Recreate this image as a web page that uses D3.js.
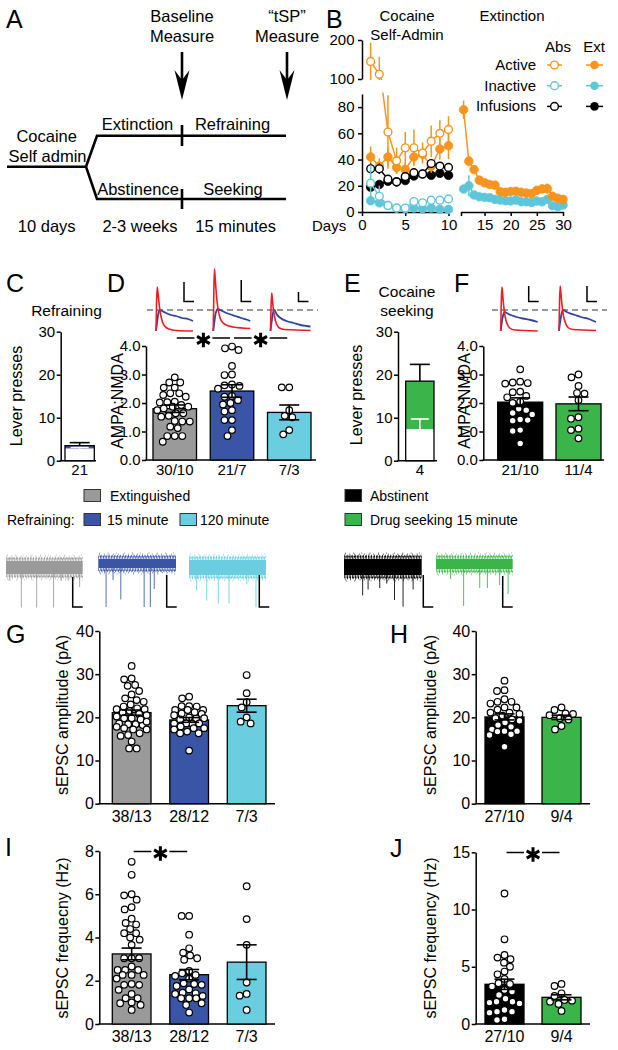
<!DOCTYPE html>
<html><head><meta charset="utf-8">
<script src="https://cdn.jsdelivr.net/npm/d3@7/dist/d3.min.js"></script>
<style>html,body{margin:0;padding:0;background:#fff}</style>
</head><body>
<svg id="fig" width="618" height="1050" xmlns="http://www.w3.org/2000/svg"></svg>
<script>
// ================= DATA =================
// Panel B: self-administration (days 1-10) and extinction (days 11-30); mean and SEM
const saDays = [1,2,3,4,5,6,7,8,9,10];
const extDays = [11,12,13,14,15,16,17,18,19,20,21,22,23,24,25,26,27,28,29,30];
const absActive = [145,112,61,39,49,49,45,54,60,63];
const absActiveSem = [48,45,28,10,12,14,8,12,10,10];
const absInactive = [22,12,5,3,3,8,7,9,9,10];
const absInactiveSem = [14,8,3,2,2,3,2,3,3,3];
const absInfusions = [33,33,25,23,27,30,29,37,35,34];
const absInfusionsSem = [4,4,3,2,2,2,2,2,2,2];
const extActiveSA = [42,35,42,34,32.5,42,44,35,48,50.5];
const extActiveSASem = [8,6,7,5,5,6,5,5,8,10];
const extInactiveSA = [8.6,7,5,3,2.5,3,2.5,3,2,2];
const extInactiveSASem = [3,3,2,1,1,1,1,1,1,1];
const extInfusionsSA = [19,21,23.5,23,24,27.5,29,28,29.5,28];
const extInfusionsSASem = [2,2,2,2,1.5,1.5,1.5,1.5,1.5,1.5];
const extActive = [78,38.8,32.4,24.3,22.3,21,20.5,15.5,15,15.6,15.8,15,14.5,14,16.5,17.6,17.8,12,10.5,9.6];
const extActiveSem = [7,4,3,3,2,2,2,2,2,2,2,2,2,2,2,3,4,2,2,2];
const extInactive = [17.5,20,13,11.6,11.2,10.9,9.6,9.1,8.6,8.4,9.1,7.8,7.8,7.3,8.4,7.8,9.6,4.8,4,5.3];
const extInactiveSem = [2,8,2,1.5,1.5,1.5,1.5,1.5,1.5,1.5,1.5,1.5,1.5,1.5,1.5,1.5,1.5,1.5,1.5,1.5];
const bDayTicksSA = [0,5,10];
const bDayTicksExt = [15,20,25,30];
const bLowTicks = [0,20,40,60,80];
const bHighTicks = [100,200];

// Panel C / E: lever presses (stacked: inactive in white, active on top)
const cGroups = ['21'];
const cInactive = [2.8], cInactiveSem = [0.3], cActive = [3.5], cActiveSem = [0.7];
const eGroups = ['4'];
const eInactive = [7.3], eInactiveSem = [2.4], eActive = [18.5], eActiveSem = [3.9];
const leverTicks = [0,10,20,30];

// Panel D: AMPA:NMDA
const dGroups = ['30/10','21/7','7/3'];
const dMeans = [1.8,2.42,1.67];
const dSems = [0.13,0.22,0.26];
const dDots = [
  [2.9,2.72,2.72,2.54,2.54,2.34,2.22,2.34,2.28,2.05,2.03,2.02,1.93,1.87,1.75,1.87,1.81,1.64,1.52,1.64,1.55,1.37,1.35,1.35,1.17,1.12,0.84,0.84,0.84,0.64],
  [3.98,3.92,3.86,3.3,3.0,2.98,2.65,2.6,2.62,2.5,2.25,2.22,2.1,2.0,1.95,1.75,1.7,1.4,1.4,1.05,0.84],
  [2.55,2.55,1.75,1.55,1.5,0.9,1.05]
];
const ampaTicks = [0,1,2,3,4];
// Panel F
const fGroups = ['21/10','11/4'];
const fMeans = [2.03,1.97];
const fSems = [0.15,0.24];
const fDots = [
  [3.18,2.75,2.72,2.7,2.68,2.4,2.38,2.25,2.2,2.05,2.0,1.8,1.75,1.65,1.6,1.42,1.38,1.4,1.05,1.02,0.58],
  [3.0,2.9,2.6,2.35,2.33,2.1,1.5,1.45,1.1,1.05,0.76]
];
// EPSC example traces (time, amplitude)
const dAmpaTraces = [
  [[0,0],[0.6,30],[1.2,44],[2,38],[3,28],[4.5,17],[6.5,9],[9,4.5],[13,2],[20,0.5],[37,0]],
  [[0,0],[0.6,40],[1.2,62],[2,52],[3,38],[4.5,24],[6.5,14],[9,9],[13,6],[20,4],[37,2.5]],
  [[0,0],[0.6,26],[1.2,38],[2,30],[3,21],[4.5,12],[6.5,6],[9,3],[14,1.5],[40,0.5]]
];
const dNmdaTraces = [
  [[0,0],[1,8],[2.5,18],[4,21],[6,20],[10,18],[15,16],[20,15],[26,13],[32,12],[37,10]],
  [[0,0],[1,8],[2.5,18],[4.5,22],[7,21],[11,19],[16,17],[22,15],[28,13],[33,11.5],[37,10]],
  [[0,0],[1,8],[2.5,18],[4,21],[6,17],[10,13],[16,10],[23,8],[30,6],[36,5],[40,4.5]]
];
const fAmpaTraces = [
  [[0,0],[0.6,30],[1.2,44],[2,36],[3,25],[4.5,14],[6.5,7],[9,3],[14,1],[37,0]],
  [[0,0],[0.6,31],[1.2,45],[2,37],[3,26],[4.5,15],[6.5,8],[9,3.5],[14,1.5],[37,0.5]]
];
const fNmdaTraces = [
  [[0,0],[1,8],[2.5,16],[4,19],[6,18],[10,16],[16,14],[22,12.5],[30,11],[37,9]],
  [[0,0],[1,8],[2.5,17],[4,21],[6,20],[10,18],[16,16],[22,14],[30,12],[37,9]]
];

// sEPSC example traces: spike times (fraction of sweep) and amplitudes (pA)
const sTraceNames = ['Extinguished','15 minute','120 minute','Abstinent','Drug seeking 15 minute'];
const sSpikeTimes = [
  [0.05,0.2,0.4,0.62,0.72,0.81,0.96],
  [0.1,0.19,0.29,0.59,0.67,0.72],
  [0.1,0.23,0.38,0.52,0.75,0.87],
  [0.24,0.31,0.46,0.55,0.65,0.76,0.89],
  [0.19,0.36,0.57,0.67,0.83,0.94]
];
const sSpikeAmps = [
  [9,26.7,26.7,26.7,9,9,13],
  [29,11,24,29,29,17],
  [15,22,24,24,11,26.5],
  [19,15,14,11,22,26.5,15],
  [10,28,16,16,14,20]
];

// Panel G / H: sEPSC amplitude
const gGroups = ['38/13','28/12','7/3'];
const gMeans = [21.1,19.4,22.7];
const gSems = [0.6,0.55,1.5];
const gDots = [
  [31.9,28.8,29,27.5,26.1,27.3,25.3,24.4,23.6,24,21.9,21.9,22.1,21.1,20.5,20.2,19.8,19.8,18.2,18.6,18.4,18.4,17.2,17.2,17.5,15.9,16.3,15.7,14.4,12.8,12.8,22.5,21.5,20.8,19.5,19,17.8,23],
  [24.8,24.4,22.5,22.6,22.6,21.7,21.7,21.7,20.9,20.8,20.5,19.8,19.5,19.8,18.6,18.5,18.6,18.6,17.5,17.2,17.5,16.3,16.3,16.7,12.3,21.2,20,17.9],
  [29.8,25.6,23.5,22.3,20,18.6,19]
];
const ampTicks = [0,10,20,30,40];
const hGroups = ['27/10','9/4'];
const hMeans = [20.1,20.0];
const hSems = [0.7,0.5];
const hDots = [
  [28.5,26.1,26.3,23.6,23.2,23.6,24.2,22.3,22.3,21.1,21.1,20.8,19.8,19.5,18.8,17.2,16.8,16.8,17.8,16.1,15.9,16.7,13.2,21.8,20.4,19.2,18.2],
  [22.3,21.7,20.8,20.5,20.9,19.5,19.8,17.2,18]
];
// Panel I / J: sEPSC frequency
const iGroups = ['38/13','28/12','7/3'];
const iMeans = [3.24,2.28,2.86];
const iSems = [0.27,0.24,0.8];
const iDots = [
  [7.5,6.9,6.0,5.95,5.75,5.4,5.3,4.87,4.67,4.6,4.39,4.2,4.2,4.0,3.9,3.66,3.04,3.04,3.04,2.66,2.5,2.5,2.5,2.27,2.27,2.27,1.81,1.81,1.85,1.58,1.39,1.19,1.19,0.96,1.0,0.88,0.65,2.1],
  [5.0,5.0,4.13,3.5,3.17,2.97,3.04,3.3,2.35,2.27,2.22,1.85,1.81,1.88,1.76,1.42,1.45,1.39,1.19,1.19,1.19,0.88,0.96,0.53,2.45,2.1,1.6,1.3],
  [6.37,4.85,3.66,1.92,1.39,1.31,0.65]
];
const freqTicksI = [0,2,4,6,8];
const jGroups = ['27/10','9/4'];
const jMeans = [3.47,2.33];
const jSems = [0.45,0.22];
const jDots = [
  [11.4,7.4,6.03,5.66,5.36,5.8,5.0,4.58,4.34,3.94,3.5,3.56,3.27,2.97,2.83,2.54,1.95,1.8,1.95,1.87,1.08,1.22,1.08,0.99,0.35,0.41,2.2],
  [3.32,3.5,2.45,2.68,1.95,2.1,1.75,2.04,1.14]
];
const freqTicksJ = [0,5,10,15];

// ================= STYLE =================
const C = {gray:'#9a9a9a', blue:'#3a55a5', cyan:'#6bcde0', black:'#000000', green:'#3bb54a',
           orange:'#f7941d', bcyan:'#5fc6da', red:'#ec1c24', tblue:'#2f44a0'};
const FONT = '"Liberation Sans", Arial, Helvetica, sans-serif';
const svg = d3.select('#fig');
const defs = svg.append('defs');

function txt(g, x, y, s, size, anchor) {
  return g.append('text').attr('x', x).attr('y', y).text(s)
    .attr('font-size', size).attr('text-anchor', anchor || 'start')
    .attr('font-family', FONT).attr('fill', '#000');
}
function styleAxis(sel, fs) {
  sel.attr('font-size', fs).attr('font-family', FONT);
  sel.select('.domain').attr('stroke', '#000').attr('stroke-width', 1.5);
  sel.selectAll('.tick line').attr('stroke', '#000').attr('stroke-width', 1.5);
  sel.selectAll('.tick text').attr('fill', '#000');
}
function star(g, x, y) {
  g.append('path').attr('transform', `translate(${x},${y})`)
    .attr('d', d3.symbol(d3.symbolAsterisk, 150)())
    .attr('stroke', '#000').attr('stroke-width', 3).attr('fill', 'none');
}
function sigBar(g, x1, x2, y) {
  const m = (x1 + x2) / 2;
  g.append('line').attr('x1', x1 + 2).attr('x2', m - 9).attr('y1', y).attr('y2', y).attr('stroke', '#000').attr('stroke-width', 1.5);
  g.append('line').attr('x1', m + 9).attr('x2', x2 - 2).attr('y1', y).attr('y2', y).attr('stroke', '#000').attr('stroke-width', 1.5);
  star(g, m, y + 2);
}
function panelLetter(x, y, s) { txt(svg, x, y, s, 25); }

// beeswarm placement of dots inside a bar
function swarm(values, cx, yScale, r, halfW) {
  const order = values.map((v, i) => ({v, i})).sort((a, b) => b.v - a.v);
  const placed = [], out = new Array(values.length);
  const minD = 2 * r + 0.6;
  for (const o of order) {
    const yy = yScale(o.v);
    let best = null, bestOv = Infinity, bestX = cx;
    for (let k = 0; k <= 4 * halfW; k++) {
      const off = (k % 2 === 0 ? 1 : -1) * Math.ceil(k / 2) * 0.5;
      if (Math.abs(off) > halfW) continue;
      const xx = cx + off;
      let ov = 0;
      for (const p of placed) {
        const d = Math.hypot(p.x - xx, p.y - yy);
        if (d < minD) ov += minD - d;
      }
      if (ov === 0) { best = xx; break; }
      if (ov < bestOv) { bestOv = ov; bestX = xx; }
    }
    if (best === null) best = bestX;
    placed.push({x: best, y: yy});
    out[o.i] = {x: best, y: yy};
  }
  return out;
}

function barPanel(o) {
  const g = svg.append('g');
  const y = d3.scaleLinear().domain([0, o.max]).range([o.y0, o.yTop]);
  const x = d3.scaleBand().domain(o.cats).range([o.barL, o.barR]).paddingInner(o.pad || 0).paddingOuter(0);
  const ax = g.append('g').attr('transform', `translate(${o.axisX},0)`)
    .call(d3.axisLeft(y).tickValues(o.ticks).tickSize(4).tickSizeOuter(0).tickPadding(1.5));
  styleAxis(ax, o.fs);
  g.append('line').attr('x1', o.axisX - 0.75).attr('x2', o.axisXEnd).attr('y1', o.y0).attr('y2', o.y0)
    .attr('stroke', '#000').attr('stroke-width', 1.5);
  o.cats.forEach(c => txt(g, x(c) + x.bandwidth() / 2, o.y0 + o.labelDy, c, o.fs, 'middle'));
  g.append('text').attr('transform', `translate(${o.ylabX},${o.ylabY}) rotate(-90)`)
    .attr('text-anchor', 'middle').attr('dy', '0.35em').attr('font-size', o.labFs || 16)
    .attr('font-family', FONT).text(o.ylabel);
  return {g, x, y};
}

function dotBars(p, o) {
  const {g, x, y} = p;
  const bw = x.bandwidth();
  o.cats.forEach((c, i) => {
    g.append('rect').attr('x', x(c)).attr('y', y(o.means[i])).attr('width', bw)
      .attr('height', y(0) - y(o.means[i])).attr('fill', o.colors[i])
      .attr('stroke', '#000').attr('stroke-width', 1.3);
  });
  o.cats.forEach((c, i) => {
    const cx = x(c) + bw / 2;
    const pts = swarm(o.dots[i], cx, y, 3.3, bw / 2 - 4);
    g.selectAll(null).data(pts).join('circle')
      .attr('cx', d => d.x).attr('cy', d => d.y).attr('r', 3.3)
      .attr('fill', '#fff').attr('stroke', '#000').attr('stroke-width', 1.2);
  });
  o.cats.forEach((c, i) => {
    const cx = x(c) + bw / 2, m = o.means[i], s = o.sems[i];
    g.append('line').attr('x1', cx).attr('x2', cx).attr('y1', y(m - s)).attr('y2', y(m + s)).attr('stroke', '#000').attr('stroke-width', 1.6);
    [m - s, m + s].forEach(v => g.append('line').attr('x1', cx - 10).attr('x2', cx + 10)
      .attr('y1', y(v)).attr('y2', y(v)).attr('stroke', '#000').attr('stroke-width', 1.6));
  });
}

function stackBar(p, o) {
  const {g, x, y} = p;
  const bw = x.bandwidth();
  o.cats.forEach((c, i) => {
    const x0 = x(c), cx = x0 + bw / 2;
    g.append('rect').attr('x', x0).attr('y', y(o.active[i])).attr('width', bw)
      .attr('height', y(o.inactive[i]) - y(o.active[i])).attr('fill', o.color);
    g.append('rect').attr('x', x0).attr('y', y(o.inactive[i])).attr('width', bw)
      .attr('height', y(0) - y(o.inactive[i])).attr('fill', '#fff');
    const ti = o.inactive[i] + o.inactiveSem[i];
    g.append('line').attr('x1', cx).attr('x2', cx).attr('y1', y(o.inactive[i])).attr('y2', y(ti)).attr('stroke', '#fff').attr('stroke-width', 1.6);
    g.append('line').attr('x1', cx - 9).attr('x2', cx + 9).attr('y1', y(ti)).attr('y2', y(ti)).attr('stroke', '#fff').attr('stroke-width', 1.6);
    g.append('rect').attr('x', x0).attr('y', y(o.active[i])).attr('width', bw)
      .attr('height', y(0) - y(o.active[i])).attr('fill', 'none').attr('stroke', '#000').attr('stroke-width', 1.3);
    const ta = o.active[i] + o.activeSem[i];
    g.append('line').attr('x1', cx).attr('x2', cx).attr('y1', y(o.active[i])).attr('y2', y(ta)).attr('stroke', '#000').attr('stroke-width', 1.6);
    g.append('line').attr('x1', cx - 10).attr('x2', cx + 10).attr('y1', y(ta)).attr('y2', y(ta)).attr('stroke', '#000').attr('stroke-width', 1.6);
  });
}

// EPSC inset traces above AMPA:NMDA bars
function epscInsets(p, ampa, nmda, dashX1, dashX2, scaleTops) {
  const {g, x} = p;
  const base = 331, dashY = 310;
  g.append('line').attr('x1', dashX1).attr('x2', dashX2).attr('y1', dashY).attr('y2', dashY)
    .attr('stroke', '#777').attr('stroke-width', 1.5).attr('stroke-dasharray', '6,4');
  x.domain().forEach((c, i) => {
    const x0 = x(c) + 3;
    const tx = d3.scaleLinear().domain([0, 37]).range([x0, x0 + 37]);
    const ty = d3.scaleLinear().domain([0, 1]).range([base, base - 1]);
    const line = d3.line().x(d => tx(d[0])).y(d => ty(d[1])).curve(d3.curveMonotoneX);
    g.append('path').attr('d', line(nmda[i])).attr('fill', 'none').attr('stroke', C.tblue).attr('stroke-width', 1.8);
    g.append('path').attr('d', line(ampa[i])).attr('fill', 'none').attr('stroke', C.red).attr('stroke-width', 1.6);
    const lx = x(c) + 31;
    g.append('path').attr('d', `M${lx},${scaleTops[i]}V301.5H${lx + 10}`)
      .attr('fill', 'none').attr('stroke', '#000').attr('stroke-width', 1.5);
  });
}

// ================= PANEL A =================
(function () {
  const g = svg.append('g');
  panelLetter(6, 28, 'A');
  const fs = 16.5;
  txt(g, 182, 21.5, 'Baseline', fs, 'middle');
  txt(g, 182, 42, 'Measure', fs, 'middle');
  txt(g, 287, 21.5, '\u201CtSP\u201D', fs, 'middle');
  txt(g, 287, 42, 'Measure', fs, 'middle');
  [182, 287].forEach(ax => {
    g.append('line').attr('x1', ax).attr('x2', ax).attr('y1', 52).attr('y2', 88).attr('stroke', '#000').attr('stroke-width', 2.6);
    g.append('path').attr('d', `M${ax - 7.5},70 L${ax},100 L${ax + 7.5},70 L${ax},80 Z`).attr('fill', '#000');
  });
  g.append('path').attr('d', 'M7,166.7 H86 L97,135.7 H286 M86,166.7 L97,199 H286 M182,125 V146 M182,189 V209')
    .attr('stroke', '#000').attr('stroke-width', 2.6).attr('fill', 'none');
  txt(g, 46.7, 141.7, 'Cocaine', fs, 'middle');
  txt(g, 47.5, 161.7, 'Self admin', fs, 'middle');
  txt(g, 137.5, 130, 'Extinction', fs, 'middle');
  txt(g, 232.5, 130, 'Refraining', fs, 'middle');
  txt(g, 138, 195, 'Abstinence', fs, 'middle');
  txt(g, 233, 195, 'Seeking', fs, 'middle');
  txt(g, 46.7, 231.5, '10 days', fs, 'middle');
  txt(g, 140, 231.5, '2-3 weeks', fs, 'middle');
  txt(g, 235.7, 231.5, '15 minutes', fs, 'middle');
})();

// ================= PANEL B =================
(function () {
  const g = svg.append('g');
  panelLetter(326, 28, 'B');
  txt(g, 407, 21, 'Cocaine', 15, 'middle');
  txt(g, 407, 40, 'Self-Admin', 15, 'middle');
  txt(g, 512, 21, 'Extinction', 15, 'middle');
  const axX = 362;
  const x1 = d3.scaleLinear().domain([0, 10]).range([axX, 448.5]);
  const x2 = d3.scaleLinear().domain([10.5, 30]).range([461, 563]);
  const yLo = d3.scaleLinear().domain([0, 90]).range([212, 94]);
  const yHi = d3.scaleLinear().domain([100, 200]).range([79, 40]);
  defs.append('clipPath').attr('id', 'clipLo').append('rect').attr('x', 340).attr('y', 92.5).attr('width', 278).attr('height', 130);
  defs.append('clipPath').attr('id', 'clipHi').append('rect').attr('x', 340).attr('y', 28).attr('width', 278).attr('height', 52);

  const aLo = g.append('g').attr('transform', `translate(${axX},0)`).call(d3.axisLeft(yLo).tickValues(bLowTicks).tickSize(4).tickSizeOuter(0).tickPadding(3.5));
  styleAxis(aLo, 15);
  const aHi = g.append('g').attr('transform', `translate(${axX},0)`).call(d3.axisLeft(yHi).tickValues(bHighTicks).tickSize(4).tickSizeOuter(0).tickPadding(3.5));
  styleAxis(aHi, 15);
  const ax1 = g.append('g').attr('transform', 'translate(0,212)').call(d3.axisBottom(x1).tickValues(bDayTicksSA).tickSize(4).tickSizeOuter(0).tickPadding(3.5));
  styleAxis(ax1, 15);
  const ax2 = g.append('g').attr('transform', 'translate(0,212)')
    .call(d3.axisBottom(x2).tickValues([10.5].concat(bDayTicksExt)).tickFormat(d => d === 10.5 ? '' : d).tickSize(4).tickSizeOuter(0).tickPadding(3.5));
  styleAxis(ax2, 15);
  txt(g, 312, 231, 'Days', 15, 'start');

  function series(xs, days, vals, sems, color, open) {
    const pts = days.map((d, i) => ({d, v: vals[i], s: sems[i]}));
    [['clipLo', yLo], ['clipHi', yHi]].forEach(([cid, ys]) => {
      const cg = g.append('g').attr('clip-path', `url(#${cid})`);
      const [lo, hi] = ys.domain();
      cg.append('path').datum(pts).attr('d', d3.line().x(p => xs(p.d)).y(p => ys(p.v)))
        .attr('fill', 'none').attr('stroke', color).attr('stroke-width', 1.5);
      const inR = pts.filter(p => p.v >= lo && p.v <= hi);
      cg.selectAll(null).data(inR).join('line')
        .attr('x1', p => xs(p.d)).attr('x2', p => xs(p.d))
        .attr('y1', p => ys(p.v - p.s)).attr('y2', p => ys(p.v + p.s))
        .attr('stroke', color).attr('stroke-width', 1.5);
      cg.selectAll(null).data(inR).join('circle')
        .attr('cx', p => xs(p.d)).attr('cy', p => ys(p.v)).attr('r', open ? 3.9 : 4.3)
        .attr('fill', open ? '#fff' : color).attr('stroke', color).attr('stroke-width', open ? 1.4 : 0.8);
    });
  }
  series(x1, saDays, extInfusionsSA, extInfusionsSASem, '#000', false);
  series(x1, saDays, extInactiveSA, extInactiveSASem, C.bcyan, false);
  series(x1, saDays, extActiveSA, extActiveSASem, C.orange, false);
  series(x1, saDays, absInfusions, absInfusionsSem, '#000', true);
  series(x1, saDays, absInactive, absInactiveSem, C.bcyan, true);
  series(x1, saDays, absActive, absActiveSem, C.orange, true);
  series(x2, extDays, extInactive, extInactiveSem, C.bcyan, false);
  series(x2, extDays, extActive, extActiveSem, C.orange, false);

  // legend
  txt(g, 558, 52, 'Abs', 15, 'middle');
  txt(g, 594, 52, 'Ext', 15, 'middle');
  const legendRows = [['Active', C.orange], ['Inactive', C.bcyan], ['Infusions', '#000']];
  legendRows.forEach(([lab, col], i) => {
    const yy = 65 + i * 20.7;
    txt(g, 536, yy + 5, lab, 15, 'end');
    g.append('line').attr('x1', 547).attr('x2', 562).attr('y1', yy).attr('y2', yy).attr('stroke', col).attr('stroke-width', 1.5);
    g.append('circle').attr('cx', 554.5).attr('cy', yy).attr('r', 3.9).attr('fill', '#fff').attr('stroke', col).attr('stroke-width', 1.4);
    g.append('line').attr('x1', 586).attr('x2', 603).attr('y1', yy).attr('y2', yy).attr('stroke', col).attr('stroke-width', 1.5);
    g.append('circle').attr('cx', 594.5).attr('cy', yy).attr('r', 4.3).attr('fill', col);
  });
})();

// ================= PANEL C =================
panelLetter(6, 292, 'C');
txt(svg, 66.5, 315.5, 'Refraining', 15.5, 'middle');
const pC = barPanel({cats: cGroups, axisX: 60.7, axisXEnd: 96, y0: 460.7, yTop: 331.7, max: 30, ticks: leverTicks,
  barL: 65, barR: 94.3, pad: 0, fs: 15, labelDy: 14.5, ylabX: 16.7, ylabY: 396, ylabel: 'Lever presses'});
stackBar(pC, {cats: cGroups, inactive: cInactive, inactiveSem: cInactiveSem, active: cActive, activeSem: cActiveSem, color: C.blue});

// ================= PANEL D =================
panelLetter(107, 292, 'D');
const pD = barPanel({cats: dGroups, axisX: 146, axisXEnd: 316, y0: 460, yTop: 346, max: 4, ticks: ampaTicks,
  barL: 153, barR: 311, pad: 0.24, fs: 15, labelDy: 15, ylabX: 117, ylabY: 401, ylabel: 'AMPA:NMDA'});
dotBars(pD, {cats: dGroups, means: dMeans, sems: dSems, dots: dDots, colors: [C.gray, C.blue, C.cyan]});
epscInsets(pD, dAmpaTraces, dNmdaTraces, 147, 318, [282, 280, 292]);
(function () {
  const x = pD.x, bw = x.bandwidth();
  const c = dGroups.map(k => x(k) + bw / 2);
  sigBar(pD.g, c[0], c[1], 338);
  sigBar(pD.g, c[1], c[2], 338);
})();

// ================= PANEL E =================
panelLetter(344, 292, 'E');
txt(svg, 407, 297, 'Cocaine', 15.5, 'middle');
txt(svg, 407, 316, 'seeking', 15.5, 'middle');
const pE = barPanel({cats: eGroups, axisX: 398, axisXEnd: 437, y0: 460.7, yTop: 331.7, max: 30, ticks: leverTicks,
  barL: 405.7, barR: 434, pad: 0, fs: 15, labelDy: 14.5, ylabX: 356.7, ylabY: 395, ylabel: 'Lever presses'});
stackBar(pE, {cats: eGroups, inactive: eInactive, inactiveSem: eInactiveSem, active: eActive, activeSem: eActiveSem, color: C.green});

// ================= PANEL F =================
panelLetter(454, 292, 'F');
const pF = barPanel({cats: fGroups, axisX: 483.3, axisXEnd: 604, y0: 460, yTop: 346, max: 4, ticks: ampaTicks,
  barL: 497.7, barR: 601, pad: 0.228, fs: 15, labelDy: 15, ylabX: 464, ylabY: 401, ylabel: 'AMPA:NMDA'});
dotBars(pF, {cats: fGroups, means: fMeans, sems: fSems, dots: fDots, colors: [C.black, C.green]});
epscInsets(pF, fAmpaTraces, fNmdaTraces, 492, 607, [286, 286]);

// ================= LEGEND =================
(function () {
  const g = svg.append('g');
  const sw = (x, y, col) => g.append('rect').attr('x', x).attr('y', y).attr('width', 16.5).attr('height', 12)
    .attr('fill', col).attr('stroke', '#333').attr('stroke-width', 1);
  sw(84, 489.5, C.gray); txt(g, 110, 500.5, sTraceNames[0], 14);
  txt(g, 7, 525, 'Refraining:', 14);
  sw(84, 513.5, C.blue); txt(g, 107, 525, sTraceNames[1], 14);
  sw(180, 513.5, C.cyan); txt(g, 200, 525, sTraceNames[2], 14);
  sw(345, 489.5, C.black); txt(g, 370, 500.5, sTraceNames[3], 14);
  sw(345, 513.5, C.green); txt(g, 370, 525, sTraceNames[4], 14);
})();

// ================= sEPSC TRACES =================
(function () {
  const g = svg.append('g');
  const cols = [C.gray, C.blue, C.cyan, C.black, C.green];
  const x0s = [6, 98.3, 189, 344, 436], x1s = [82.7, 176, 266, 421.7, 512.7];
  const tops = [558, 556, 557, 556, 556], bots = [577, 571, 578, 578, 572];
  const lxs = [72.7, 166.7, 259.3, 423.3, 502.7], ltops = [577, 575, 575, 575, 576];
  // edge "noise" texture: several overlapping dash rhythms (purely visual styling)
  const fuzz = [[1.5, '0.7 0.9', 3], [-0.3, '0.6 2.1', 2], [-1.8, '0.5 4.3', 1.6], [-2.8, '0.5 7.7', 1.2], [0.5, '1.1 1.7', 2.2]];
  cols.forEach((col, i) => {
    const tx = d3.scaleLinear().domain([0, 1]).range([x0s[i], x1s[i]]);
    const mid = (tops[i] + bots[i]) / 2;
    const ty = d3.scaleLinear().domain([0, 1]).range([mid, mid + 1.5]);
    g.append('rect').attr('x', x0s[i]).attr('y', tops[i] + 3).attr('width', x1s[i] - x0s[i])
      .attr('height', bots[i] - tops[i] - 6).attr('fill', col);
    fuzz.forEach(([dy, da, w], k) => {
      g.append('line').attr('x1', x0s[i] + k * 0.4).attr('x2', x1s[i]).attr('y1', tops[i] + dy).attr('y2', tops[i] + dy)
        .attr('stroke', col).attr('stroke-width', w).attr('stroke-dasharray', da);
      g.append('line').attr('x1', x0s[i] + k * 0.7).attr('x2', x1s[i]).attr('y1', bots[i] - dy).attr('y2', bots[i] - dy)
        .attr('stroke', col).attr('stroke-width', w).attr('stroke-dasharray', da);
    });
    sSpikeTimes[i].forEach((t, k) => {
      g.append('line').attr('x1', tx(t)).attr('x2', tx(t)).attr('y1', mid).attr('y2', ty(sSpikeAmps[i][k]))
        .attr('stroke', col).attr('stroke-width', 1).attr('opacity', 0.85);
    });
    g.append('path').attr('d', `M${lxs[i]},${ltops[i]}V607H${lxs[i] + 10}`)
      .attr('fill', 'none').attr('stroke', '#000').attr('stroke-width', 1.5);
  });
})();

// ================= PANEL G =================
panelLetter(6, 643, 'G');
const pG = barPanel({cats: gGroups, axisX: 99.3, axisXEnd: 275, y0: 803.7, yTop: 631, max: 40, ticks: ampTicks,
  barL: 112.3, barR: 266, pad: 0.327, fs: 16, labelDy: 18, ylabX: 62.5, ylabY: 715, ylabel: 'sEPSC amplitude (pA)'});
dotBars(pG, {cats: gGroups, means: gMeans, sems: gSems, dots: gDots, colors: [C.gray, C.blue, C.cyan]});

// ================= PANEL H =================
panelLetter(390, 643, 'H');
const pH = barPanel({cats: hGroups, axisX: 475.7, axisXEnd: 590, y0: 803.7, yTop: 631, max: 40, ticks: ampTicks,
  barL: 485, barR: 581, pad: 0.316, fs: 16, labelDy: 18, ylabX: 430.5, ylabY: 715, ylabel: 'sEPSC amplitude (pA)'});
dotBars(pH, {cats: hGroups, means: hMeans, sems: hSems, dots: hDots, colors: [C.black, C.green]});

// ================= PANEL I =================
panelLetter(5, 856, 'I');
const pI = barPanel({cats: iGroups, axisX: 99.3, axisXEnd: 275, y0: 1024, yTop: 851, max: 8, ticks: freqTicksI,
  barL: 112.3, barR: 266, pad: 0.327, fs: 16, labelDy: 17.7, ylabX: 62.5, ylabY: 938, ylabel: 'sEPSC frequecny (Hz)'});
dotBars(pI, {cats: iGroups, means: iMeans, sems: iSems, dots: iDots, colors: [C.gray, C.blue, C.cyan]});
(function () {
  const x = pI.x, bw = x.bandwidth();
  sigBar(pI.g, x(iGroups[0]) + bw / 2, x(iGroups[1]) + bw / 2, 851.5);
})();

// ================= PANEL J =================
panelLetter(390, 857, 'J');
const pJ = barPanel({cats: jGroups, axisX: 475.7, axisXEnd: 590, y0: 1024, yTop: 852.3, max: 15, ticks: freqTicksJ,
  barL: 485, barR: 581, pad: 0.316, fs: 16, labelDy: 17.7, ylabX: 430.5, ylabY: 938, ylabel: 'sEPSC frequency (Hz)'});
dotBars(pJ, {cats: jGroups, means: jMeans, sems: jSems, dots: jDots, colors: [C.black, C.green]});
(function () {
  const x = pJ.x, bw = x.bandwidth();
  sigBar(pJ.g, x(jGroups[0]) + bw / 2, x(jGroups[1]) + bw / 2, 852.5);
})();
</script>
</body></html>
